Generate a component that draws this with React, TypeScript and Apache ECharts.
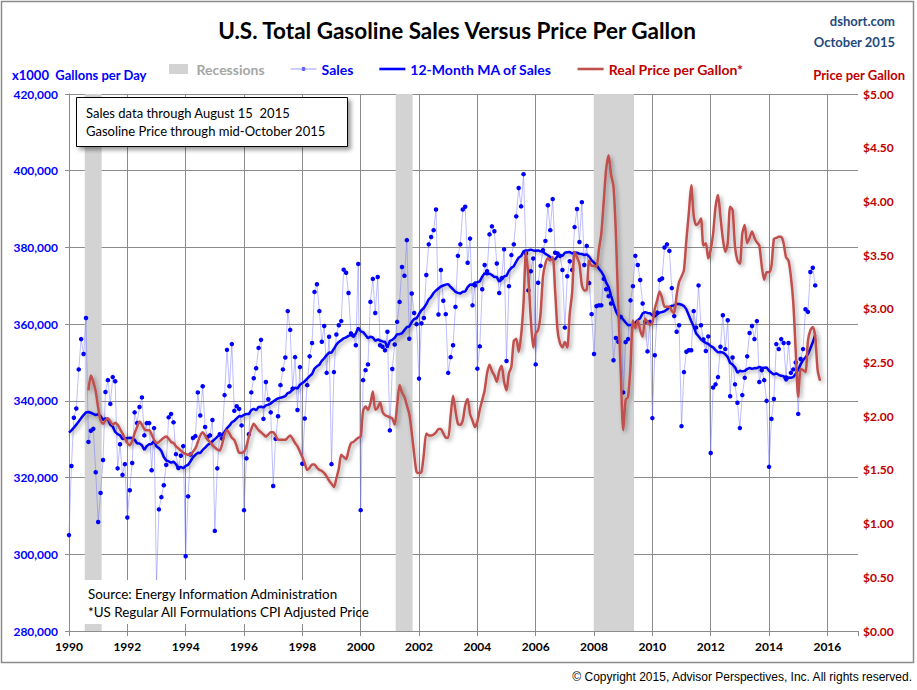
import React, { useEffect, useRef } from 'react';
import * as echarts from 'echarts';

// ---- Data ----
const SALES_START = 1990; // Jan 1990, monthly, thousand gallons per day
const SALES = [
  // 1990
  305.0, 323.0, 335.6, 338.0, 348.2, 356.1, 352.2, 361.6, 329.3, 332.2, 332.7, 321.4,
  // 1991
  308.4, 316.0, 324.6, 342.3, 345.4, 339.2, 346.2, 345.1, 322.4, 328.7, 320.7, 323.5,
  // 1992
  309.6, 316.7, 323.8, 337.0, 334.2, 338.4, 340.9, 331.0, 334.2, 334.2, 321.9, 332.9,
  // 1993
  292.0, 311.7, 314.9, 318.0, 323.3, 335.7, 336.6, 334.4, 326.1, 322.5, 325.7, 328.2,
  // 1994
  299.5, 315.1, 326.0, 330.3, 330.8, 342.2, 336.2, 343.8, 333.2, 330.6, 331.0, 335.0,
  // 1995
  306.1, 322.4, 331.3, 330.2, 341.5, 353.3, 343.8, 354.8, 337.4, 338.6, 337.9, 333.6,
  // 1996
  311.5, 325.0, 331.3, 342.2, 345.9, 348.5, 353.8, 355.9, 335.3, 344.9, 340.4, 337.0,
  // 1997
  317.8, 330.1, 336.0, 344.1, 348.2, 351.3, 363.4, 358.5, 343.2, 351.4, 337.6, 348.8,
  // 1998
  323.6, 335.4, 344.1, 351.6, 355.1, 368.4, 370.4, 363.4, 355.4, 359.5, 347.3, 356.7,
  // 1999
  323.5, 347.5, 357.3, 359.7, 360.8, 374.2, 373.4, 368.1, 357.6, 357.0, 354.5, 375.7,
  // 2000
  311.5, 345.4, 348.0, 349.5, 365.8, 371.8, 362.9, 372.3, 354.5, 354.1, 353.2, 358.0,
  // 2001
  332.3, 348.3, 354.7, 360.6, 365.8, 374.9, 372.6, 381.9, 356.2, 368.0, 362.9, 360.0,
  // 2002
  345.8, 360.2, 361.6, 372.8, 380.8, 382.7, 384.5, 389.9, 362.5, 374.1, 366.1, 362.6,
  // 2003
  347.3, 351.4, 354.5, 364.5, 377.8, 380.8, 389.9, 390.6, 376.0, 382.3, 364.9, 370.1,
  // 2004
  348.4, 354.2, 369.1, 375.4, 373.8, 383.4, 385.5, 384.2, 375.8, 368.1, 372.0, 379.5,
  // 2005
  350.4, 369.9, 378.0, 380.8, 388.1, 395.5, 390.7, 399.1, 378.4, 368.8, 373.8, 377.1,
  // 2006
  349.5, 370.8, 375.2, 379.3, 381.7, 391.0, 384.5, 392.6, 378.6, 378.4, 377.8, 374.1,
  // 2007
  359.1, 372.5, 376.4, 374.1, 385.3, 390.0, 381.4, 391.8, 375.4, 380.4, 370.7, 362.6,
  // 2008
  352.2, 364.7, 364.9, 364.9, 371.8, 369.1, 367.3, 365.4, 350.6, 356.4, 355.4, 361.9,
  // 2009
  342.2, 355.3, 356.1, 366.2, 369.9, 377.8, 375.4, 371.5, 365.4, 360.6, 352.9, 360.6,
  // 2010
  335.5, 351.9, 363.0, 371.5, 371.9, 380.0, 380.8, 379.1, 369.4, 362.1, 358.0, 359.7,
  // 2011
  333.4, 347.5, 352.8, 353.2, 353.2, 363.4, 359.1, 370.1, 359.7, 356.0, 353.0, 356.8,
  // 2012
  326.4, 343.5, 344.3, 346.2, 354.1, 362.3, 353.5, 361.0, 341.2, 351.3, 344.3, 339.5,
  // 2013
  332.9, 341.5, 346.0, 351.6, 357.7, 359.5, 356.1, 360.8, 344.9, 348.0, 345.4, 340.0,
  // 2014
  322.8, 335.3, 340.5, 354.8, 353.5, 356.1, 355.1, 346.1, 355.1, 347.3, 348.2, 350.0,
  // 2015
  336.6, 350.9, 353.5, 363.9, 363.2, 373.6, 374.7, 370.1,
];

// 12-month MA for Jan-Nov 1990 (uses 1989 sales)
const MA_EARLY = [331.7, 332.3, 333.0, 333.8, 334.6, 335.5, 336.3, 337.0, 337.1, 336.9, 336.6];

const PRICE_START = 1990 + 8 / 12; // Sep 1990, monthly, real $ per gallon
const PRICE = [
  // 1990 Sep-Dec
  2.24, 2.38, 2.32, 2.23,
  // 1991
  2.08, 1.96, 1.93, 1.96, 1.98, 1.95, 1.92, 1.94, 1.92, 1.88, 1.84, 1.79,
  // 1992
  1.75, 1.73, 1.77, 1.84, 1.90, 1.95, 1.92, 1.88, 1.87, 1.87, 1.83, 1.78,
  // 1993
  1.75, 1.76, 1.78, 1.80, 1.81, 1.79, 1.76, 1.75, 1.72, 1.70, 1.68, 1.66,
  // 1994
  1.65, 1.64, 1.64, 1.67, 1.70, 1.76, 1.82, 1.85, 1.82, 1.78, 1.76, 1.73,
  // 1995
  1.71, 1.69, 1.68, 1.74, 1.83, 1.87, 1.84, 1.80, 1.78, 1.72, 1.66, 1.66,
  // 1996
  1.67, 1.72, 1.81, 1.88, 1.93, 1.90, 1.87, 1.85, 1.83, 1.81, 1.83, 1.85,
  // 1997
  1.85, 1.82, 1.78, 1.78, 1.78, 1.78, 1.80, 1.82, 1.79, 1.75, 1.72, 1.67,
  // 1998
  1.62, 1.56, 1.50, 1.52, 1.55, 1.55, 1.52, 1.50, 1.49, 1.47, 1.44, 1.40,
  // 1999
  1.37, 1.34, 1.42, 1.51, 1.64, 1.62, 1.60, 1.68, 1.75, 1.76, 1.78, 1.80,
  // 2000
  1.81, 2.05, 2.09, 2.06, 2.12, 2.23, 2.06, 2.08, 2.13, 2.04, 2.01, 2.00,
  // 2001
  1.99, 1.98, 1.92, 2.10, 2.29, 2.22, 2.18, 2.10, 2.02, 1.85, 1.65, 1.48,
  // 2002
  1.47, 1.48, 1.65, 1.84, 1.82, 1.82, 1.83, 1.85, 1.88, 1.88, 1.84, 1.80,
  // 2003
  1.80, 2.00, 2.19, 2.05, 1.93, 1.92, 1.96, 2.10, 2.16, 2.02, 1.96, 1.90,
  // 2004
  1.95, 2.06, 2.15, 2.24, 2.40, 2.48, 2.42, 2.38, 2.32, 2.42, 2.47, 2.32,
  // 2005
  2.24, 2.40, 2.46, 2.70, 2.72, 2.60, 2.75, 3.05, 3.53, 3.30, 2.90, 2.64,
  // 2006
  2.77, 2.80, 2.95, 3.30, 3.42, 3.47, 3.45, 3.48, 3.17, 2.80, 2.68, 2.64,
  // 2007
  2.69, 2.64, 2.95, 3.15, 3.53, 3.48, 3.42, 3.22, 3.17, 3.18, 3.45, 3.40,
  // 2008
  3.40, 3.39, 3.55, 3.70, 4.00, 4.30, 4.43, 4.25, 4.14, 3.70, 3.00, 2.40,
  // 2009
  1.87, 2.15, 2.18, 2.46, 2.89, 2.82, 2.89, 2.80, 2.74, 2.91, 2.88, 2.85,
  // 2010
  2.87, 3.00, 3.08, 3.16, 3.10, 3.02, 3.02, 3.02, 2.98, 2.96, 3.13, 3.25,
  // 2011
  3.30, 3.36, 3.64, 3.89, 4.15, 3.87, 3.78, 3.80, 3.84, 3.59, 3.61, 3.47,
  // 2012
  3.55, 3.70, 3.95, 4.06, 3.86, 3.65, 3.53, 3.61, 3.95, 3.92, 3.58, 3.45,
  // 2013
  3.42, 3.70, 3.78, 3.61, 3.66, 3.72, 3.66, 3.62, 3.59, 3.40, 3.27, 3.34,
  // 2014
  3.34, 3.40, 3.65, 3.66, 3.67, 3.67, 3.61, 3.48, 3.45, 3.30, 3.05, 2.60,
  // 2015 Jan-Oct
  2.18, 2.44, 2.43, 2.41, 2.70, 2.80, 2.83, 2.74, 2.43, 2.33,
];

const RECESSION_START = [1990.54, 2001.2, 2007.99];
const RECESSION_END = [1991.12, 2001.78, 2009.37];

const X_MIN = 1990;
const X_MAX = 2017.05;
const SALES_MIN = 280;
const SALES_MAX = 420;
const SALES_STEP = 20;
const PRICE_MIN = 0;
const PRICE_MAX = 5;
const PRICE_STEP = 0.5;

const FONT = 'Lato, "Open Sans", "DejaVu Sans", sans-serif';
const BLUE = '#0000ff';
const RED_TXT = '#c00000';
const RED_LINE = '#c0504d';
const GRID = '#8c8c8c';
const REC_GRAY = '#d3d3d3';

export default function App() {
  const ref = useRef<HTMLDivElement>(null);

  useEffect(() => {
    if (!ref.current) return;
    const chart = echarts.init(ref.current, undefined, { renderer: 'svg' });

    const salesPts = SALES.map((v, i) => [SALES_START + i / 12, v]);
    const maPts = SALES.map((_, i) => {
      let v: number;
      if (i < 11) v = MA_EARLY[i];
      else {
        let s = 0;
        for (let k = i - 11; k <= i; k++) s += SALES[k];
        v = s / 12;
      }
      return [SALES_START + i / 12, Math.round(v * 100) / 100];
    });
    const pricePts = PRICE.map((v, i) => [PRICE_START + i / 12, v]);
    const recessionAreas = RECESSION_START.map((s, i) => [
      { xAxis: s },
      { xAxis: RECESSION_END[i] },
    ]);

    const shadow = {
      shadowColor: 'rgba(0,0,0,0.35)',
      shadowBlur: 4,
      shadowOffsetX: 2,
      shadowOffsetY: 2,
    };

    chart.setOption({
      animation: false,
      backgroundColor: '#ffffff',
      grid: { left: 69, right: 59, top: 94, bottom: 59, containLabel: false },
      legend: {
        top: 57,
        left: 164,
        itemWidth: 26,
        itemHeight: 10,
        itemGap: 26,
        textStyle: { fontFamily: FONT, fontWeight: 'bold', fontSize: 14 },
        data: [
          {
            name: 'Recessions',
            icon: 'path://M0,0H19V10H0Z',
            itemStyle: { color: REC_GRAY },
            textStyle: { color: '#a6a6a6' },
          },
          {
            name: 'Sales',
            icon: 'path://M0,4.6H30V5.4H0Z M12.6,5A2.4,2.4,0,1,0,17.4,5A2.4,2.4,0,1,0,12.6,5Z',
            itemStyle: { color: '#3a3aff' },
            textStyle: { color: BLUE },
          },
          {
            name: '12-Month MA of Sales',
            icon: 'path://M0,0H30V3H0Z',
            itemStyle: { color: BLUE },
            textStyle: { color: BLUE },
          },
          {
            name: 'Real Price per Gallon*',
            icon: 'path://M0,0H30V3H0Z',
            itemStyle: { color: RED_LINE },
            textStyle: { color: RED_TXT },
          },
        ],
      },
      xAxis: {
        type: 'value',
        min: X_MIN,
        max: X_MAX,
        interval: 2,
        axisLine: { show: true, onZero: false, lineStyle: { color: GRID, width: 1 } },
        axisTick: { show: true, length: 5, lineStyle: { color: GRID } },
        splitLine: { show: true, showMaxLine: false, lineStyle: { color: GRID, width: 1 } },
        axisLabel: {
          margin: 9,
          color: '#000',
          fontFamily: FONT,
          fontWeight: 'bold',
          fontSize: 12,
          formatter: (v: number) =>
            Math.abs(v - Math.round(v)) < 1e-6 && Math.round(v) % 2 === 0 && v <= 2016 ? String(Math.round(v)) : '',
        },
      },
      yAxis: [
        {
          type: 'value',
          position: 'left',
          min: SALES_MIN,
          max: SALES_MAX,
          interval: SALES_STEP,
          axisLine: { show: true, lineStyle: { color: GRID } },
          axisTick: { show: true, length: 4, lineStyle: { color: GRID } },
          splitLine: { show: true, lineStyle: { color: GRID, width: 1 } },
          axisLabel: {
            margin: 11,
            color: BLUE,
            fontFamily: FONT,
            fontWeight: 'bold',
            fontSize: 12,
            formatter: (v: number) => Math.round(v * 1000).toLocaleString('en-US'),
          },
        },
        {
          type: 'value',
          position: 'right',
          min: PRICE_MIN,
          max: PRICE_MAX,
          interval: PRICE_STEP,
          axisLine: { show: false },
          axisTick: { show: false },
          splitLine: { show: false },
          axisLabel: {
            margin: 5,
            color: RED_TXT,
            fontFamily: FONT,
            fontWeight: 'bold',
            fontSize: 12,
            formatter: (v: number) => '$' + v.toFixed(2),
          },
        },
      ],
      series: [
        {
          name: 'Recessions',
          type: 'line',
          data: [],
          itemStyle: { color: REC_GRAY },
          lineStyle: { color: REC_GRAY },
          z: 0,
          markArea: {
            silent: true,
            itemStyle: { color: REC_GRAY, opacity: 1 },
            data: recessionAreas,
          },
        },
        {
          name: 'Sales',
          type: 'line',
          yAxisIndex: 0,
          data: salesPts,
          symbol: 'circle',
          symbolSize: 4.5,
          showSymbol: true,
          itemStyle: { color: BLUE },
          lineStyle: { color: 'rgba(110,110,255,0.45)', width: 1 },
          z: 3,
        },
        {
          name: '12-Month MA of Sales',
          type: 'line',
          yAxisIndex: 0,
          data: maPts,
          symbol: 'none',
          itemStyle: { color: BLUE },
          lineStyle: { color: BLUE, width: 2.5, ...shadow },
          z: 4,
        },
        {
          name: 'Real Price per Gallon*',
          type: 'line',
          yAxisIndex: 1,
          data: pricePts,
          symbol: 'none',
          smooth: 0.25,
          itemStyle: { color: RED_LINE },
          lineStyle: { color: RED_LINE, width: 2.5, ...shadow },
          z: 5,
        },
      ],
      graphic: {
        elements: [
          {
            type: 'rect',
            silent: true,
            z: 0,
            shape: { x: 1.5, y: 1.5, width: 912, height: 661 },
            style: { fill: 'none', stroke: '#8c8c8c', lineWidth: 1.5 },
          },
          {
            type: 'text',
            x: 457,
            y: 30,
            style: {
              text: 'U.S. Total Gasoline Sales Versus Price Per Gallon',
              fill: '#000',
              font: `bold 22.5px ${FONT}`,
              align: 'center',
              verticalAlign: 'middle',
            },
          },
          {
            type: 'text',
            x: 895,
            y: 21,
            style: { text: 'dshort.com', fill: '#1f497d', font: `bold 13px ${FONT}`, align: 'right', verticalAlign: 'middle' },
          },
          {
            type: 'text',
            x: 895,
            y: 42,
            style: { text: 'October 2015', fill: '#1f497d', font: `bold 13px ${FONT}`, align: 'right', verticalAlign: 'middle' },
          },
          {
            type: 'text',
            x: 12,
            y: 75,
            style: { text: 'x1000  Gallons per Day', fill: BLUE, font: `bold 13px ${FONT}`, align: 'left', verticalAlign: 'middle' },
          },
          {
            type: 'text',
            x: 905,
            y: 75,
            style: { text: 'Price per Gallon', fill: RED_TXT, font: `bold 13px ${FONT}`, align: 'right', verticalAlign: 'middle' },
          },
          {
            type: 'rect',
            z: 100,
            shape: { x: 76.5, y: 97.5, width: 271, height: 49 },
            style: {
              fill: '#ffffff',
              stroke: '#000000',
              lineWidth: 1,
              shadowColor: 'rgba(0,0,0,0.4)',
              shadowBlur: 4,
              shadowOffsetX: 3,
              shadowOffsetY: 3,
            },
          },
          {
            type: 'text',
            z: 101,
            x: 86,
            y: 113,
            style: { text: 'Sales data through August 15  2015', fill: '#000', font: `13px ${FONT}`, verticalAlign: 'middle' },
          },
          {
            type: 'text',
            z: 101,
            x: 86,
            y: 131,
            style: { text: 'Gasoline Price through mid-October 2015', fill: '#000', font: `13px ${FONT}`, verticalAlign: 'middle' },
          },
          {
            type: 'rect',
            z: 100,
            shape: { x: 80, y: 580, width: 264, height: 44 },
            style: { fill: '#ffffff' },
          },
          {
            type: 'text',
            z: 101,
            x: 88,
            y: 594,
            style: { text: 'Source: Energy Information Administration', fill: '#000', font: `13.4px ${FONT}`, verticalAlign: 'middle' },
          },
          {
            type: 'text',
            z: 101,
            x: 88,
            y: 612,
            style: { text: '*US Regular All Formulations CPI Adjusted Price', fill: '#000', font: `13.4px ${FONT}`, verticalAlign: 'middle' },
          },
          {
            type: 'text',
            x: 912,
            y: 677,
            style: {
              text: '\u00A9 Copyright 2015, Advisor Perspectives, Inc. All rights reserved.',
              fill: '#000',
              font: `12px "Liberation Sans", Arial, sans-serif`,
              align: 'right',
              verticalAlign: 'middle',
            },
          },
        ],
      },
    });

    return () => chart.dispose();
  }, []);

  return (
    <div
      ref={ref}
      style={{ position: 'fixed', left: 0, top: 0, width: 917, height: 690, background: '#fff' }}
    />
  );
}
